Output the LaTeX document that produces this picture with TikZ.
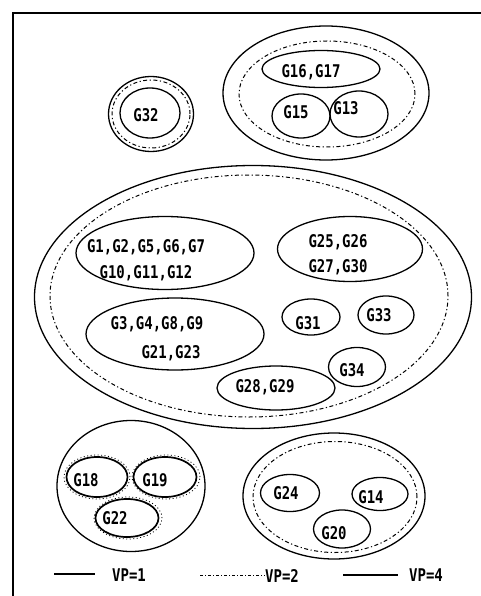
\documentclass[tikz,border=0pt]{standalone}
\usepackage{fontspec}
\usetikzlibrary{shapes.geometric}
\newfontfamily\labfont[FakeStretch=0.8]{DejaVu Sans Mono}
\tikzset{
  grp/.style={ellipse, inner sep=0pt},
  vpone/.style={draw, line width=1.3pt},
  vptwo/.style={draw, line width=1pt, dash pattern=on 4pt off 2.5pt on 1.2pt off 2.5pt},
  vpfour/.style={draw, line width=1.7pt},
  vpdots/.style={draw, line width=0.8pt, dash pattern=on 1pt off 2.5pt},
  lab/.style={font=\labfont\bfseries\fontsize{17.5pt}{26pt}\selectfont, inner sep=0pt},
  frame/.style={line width=1.6pt},
}
\begin{document}
\begin{tikzpicture}[x=1pt,y=-1pt]
\useasboundingbox (0,0) rectangle (481,596);
\fill[white] (0,0) rectangle (481,596);

% frame
\coordinate (fr) at (481,13);
\coordinate (fc) at (13,13);
\coordinate (fb) at (13,596);
\draw[frame] (fr) -- (fc) -- (fb);

% G32
\node[grp, vpone, minimum width=85pt, minimum height=75pt] (a1) at (151,114) {};
\node[grp, vptwo, minimum width=78pt, minimum height=68pt] (a2) at (151,114) {};
\node[grp, vpone, minimum width=60pt, minimum height=50pt] (a3) at (150,113) {};
\node[lab] (ta3) at (146,115) {G32};

% top right group
\node[grp, vpone, minimum width=206pt, minimum height=134pt] (b1) at (326,93) {};
\node[grp, vptwo, minimum width=176pt, minimum height=106pt] (b2) at (327,94) {};
\node[grp, vpone, minimum width=118pt, minimum height=37pt] (b3) at (321,69) {};
\node[grp, vpone, minimum width=58pt, minimum height=44pt] (b4) at (301,116) {};
\node[grp, vpone, minimum width=58pt, minimum height=46pt] (b5) at (359,114) {};
\node[lab] (tb3) at (311,72) {G16,G17};
\node[lab] (tb4) at (296,112) {G15};
\node[lab] (tb5) at (346,108) {G13};

% central group
\node[grp, vpone, minimum width=437pt, minimum height=263pt] (c1) at (253,297) {};
\node[grp, vptwo, minimum width=398pt, minimum height=242pt] (c2) at (249,296) {};
\node[grp, vpone, minimum width=178pt, minimum height=73pt] (c3) at (165,253) {};
\node[grp, vpone, minimum width=145pt, minimum height=65pt] (c4) at (350,249) {};
\node[grp, vpone, minimum width=178pt, minimum height=72pt] (c5) at (175,334) {};
\node[grp, vpone, minimum width=58pt, minimum height=36pt] (c6) at (311,317) {};
\node[grp, vpone, minimum width=56pt, minimum height=38pt] (c7) at (386,315) {};
\node[grp, vpone, minimum width=57pt, minimum height=39pt] (c8) at (357,367) {};
\node[grp, vpone, minimum width=118pt, minimum height=44pt] (c9) at (276,388) {};
\node[lab] (tc3a) at (146,247) {G1,G2,G5,G6,G7};
\node[lab] (tc3b) at (146,273) {G10,G11,G12};
\node[lab] (tc4a) at (338,242) {G25,G26};
\node[lab] (tc4b) at (338,267) {G27,G30};
\node[lab] (tc5a) at (157,324) {G3,G4,G8,G9};
\node[lab] (tc5b) at (171,353) {G21,G23};
\node[lab] (tc6) at (308,323) {G31};
\node[lab] (tc7) at (379,315) {G33};
\node[lab] (tc8) at (352,370) {G34};
\node[lab] (tc9) at (265,387) {G28,G29};

% bottom left group
\node[grp, vpone, minimum width=148pt, minimum height=131pt] (d1) at (131,486) {};
\node[grp, vpdots, minimum width=66pt, minimum height=44pt] (d2o) at (97,477) {};
\node[grp, vpfour, minimum width=61pt, minimum height=40pt] (d2) at (97,477) {};
\node[grp, vpdots, minimum width=68pt, minimum height=44pt] (d3o) at (166,477) {};
\node[grp, vpfour, minimum width=63pt, minimum height=40pt] (d3) at (165,477) {};
\node[grp, vpdots, minimum width=68pt, minimum height=42pt] (d4o) at (128,518) {};
\node[grp, vpfour, minimum width=63pt, minimum height=38pt] (d4) at (127,518) {};
\node[lab] (td2) at (86,480) {G18};
\node[lab] (td3) at (155,480) {G19};
\node[lab] (td4) at (115,518) {G22};

% bottom right group
\node[grp, vpone, minimum width=182pt, minimum height=126pt] (e1) at (334,496) {};
\node[grp, vptwo, minimum width=164pt, minimum height=111pt] (e2) at (335,497) {};
\node[grp, vpone, minimum width=59pt, minimum height=37pt] (e3) at (290,493) {};
\node[grp, vpone, minimum width=56pt, minimum height=33pt] (e4) at (380,494) {};
\node[grp, vpone, minimum width=57pt, minimum height=38pt] (e5) at (342,529) {};
\node[lab] (te3) at (286,493) {G24};
\node[lab] (te4) at (371,497) {G14};
\node[lab] (te5) at (334,533) {G20};

% legend
\coordinate (l1a) at (54,574);
\coordinate (l1b) at (95,574);
\coordinate (l2a) at (200,575);
\coordinate (l2b) at (265,575);
\coordinate (l3a) at (343,575);
\coordinate (l3b) at (398,575);
\draw[line width=1.2pt] (l1a) -- (l1b);
\draw[line width=1pt, dash pattern=on 3pt off 2pt on 1pt off 2pt] (l2a) -- (l2b);
\draw[line width=1.5pt] (l3a) -- (l3b);
\node[lab] (k1) at (129,575) {VP=1};
\node[lab] (k2) at (282,576) {VP=2};
\node[lab] (k3) at (426,575) {VP=4};
\end{tikzpicture}
\end{document}
